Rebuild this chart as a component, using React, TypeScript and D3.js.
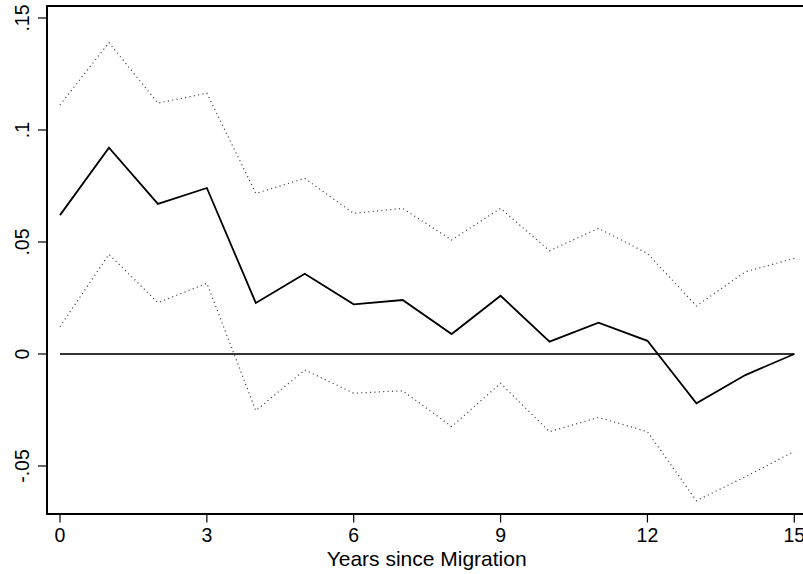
import React, { useEffect, useRef } from 'react';
import * as d3 from 'd3';

const years = [0, 1, 2, 3, 4, 5, 6, 7, 8, 9, 10, 11, 12, 13, 14, 15];
const estimate = [0.062, 0.0921, 0.067, 0.0741, 0.0228, 0.0358, 0.0222, 0.0241, 0.0089, 0.026, 0.0055, 0.014, 0.0059, -0.022, -0.0094, 0];
const upperCI = [0.1112, 0.139, 0.112, 0.1164, 0.0717, 0.0784, 0.0628, 0.065, 0.0509, 0.065, 0.0461, 0.0561, 0.0449, 0.0214, 0.0367, 0.0427];
const lowerCI = [0.0122, 0.0445, 0.0229, 0.0316, -0.0253, -0.0071, -0.0175, -0.0164, -0.0324, -0.0131, -0.0347, -0.0283, -0.0347, -0.0655, -0.0548, -0.0435];
const xTicks = [0, 3, 6, 9, 12, 15];
const yTicks = [-0.05, 0, 0.05, 0.1, 0.15];
const yTickLabels = ['-.05', '0', '.05', '.1', '.15'];
const xTitle = 'Years since Migration';

const W = 803;
const H = 574;

export default function App() {
  const ref = useRef<SVGSVGElement>(null);

  useEffect(() => {
    const svg = d3.select(ref.current);
    svg.selectAll('*').remove();

    // plot frame: left 47, top 6, bottom 514 (right edge runs off the picture)
    const x = d3.scaleLinear().domain([0, 15]).range([60, 794.3]);
    const y = d3.scaleLinear().domain([-0.05, 0.15]).range([466, 18]);
    const left = 47, top = 6, bottom = 514, right = 808;
    const font = 'Arial, "Liberation Sans", Helvetica, sans-serif';

    svg.append('rect')
      .attr('width', W).attr('height', H).attr('fill', '#ffffff');

    const line = d3.line<number>()
      .x((d, i) => x(years[i]))
      .y(d => y(d));

    // zero reference line
    svg.append('line')
      .attr('x1', x(0)).attr('x2', x(15))
      .attr('y1', y(0)).attr('y2', y(0))
      .attr('stroke', '#333').attr('stroke-width', 1.8);

    // confidence bands
    [upperCI, lowerCI].forEach(ci => {
      svg.append('path')
        .datum(ci)
        .attr('d', line)
        .attr('fill', 'none')
        .attr('stroke', '#404040')
        .attr('stroke-width', 1.2)
        .attr('stroke-dasharray', '1.1 3.3');
    });

    // point estimates
    svg.append('path')
      .datum(estimate)
      .attr('d', line)
      .attr('fill', 'none')
      .attr('stroke', '#000')
      .attr('stroke-width', 1.8)
      .attr('stroke-linejoin', 'miter');

    // frame
    svg.append('path')
      .attr('d', `M${right},${top}H${left}V${bottom}H${right}`)
      .attr('fill', 'none')
      .attr('stroke', '#000')
      .attr('stroke-width', 2);

    // y axis ticks and labels
    yTicks.forEach((t, i) => {
      svg.append('line')
        .attr('x1', left - 9).attr('x2', left)
        .attr('y1', y(t)).attr('y2', y(t))
        .attr('stroke', '#000').attr('stroke-width', 1.2);
      svg.append('text')
        .attr('transform', `translate(28.5,${y(t)}) rotate(-90)`)
        .attr('text-anchor', 'middle')
        .attr('font-family', font)
        .attr('font-size', 19.5)
        .attr('fill', '#000')
        .text(yTickLabels[i]);
    });

    // x axis ticks and labels
    xTicks.forEach(t => {
      svg.append('line')
        .attr('x1', x(t)).attr('x2', x(t))
        .attr('y1', bottom).attr('y2', bottom + 8.5)
        .attr('stroke', '#000').attr('stroke-width', 1.2);
      svg.append('text')
        .attr('x', x(t)).attr('y', 541.7)
        .attr('text-anchor', 'middle')
        .attr('font-family', font)
        .attr('font-size', 19.5)
        .attr('fill', '#000')
        .text(String(t));
    });

    svg.append('text')
      .attr('x', x(7.5) - 0.5).attr('y', 565.7)
      .attr('text-anchor', 'middle')
      .attr('font-family', font)
      .attr('font-size', 21)
      .attr('fill', '#000')
      .text(xTitle);
  }, []);

  return (
    <svg
      ref={ref}
      width={W}
      height={H}
      style={{ position: 'fixed', left: 0, top: 0, display: 'block' }}
    />
  );
}
